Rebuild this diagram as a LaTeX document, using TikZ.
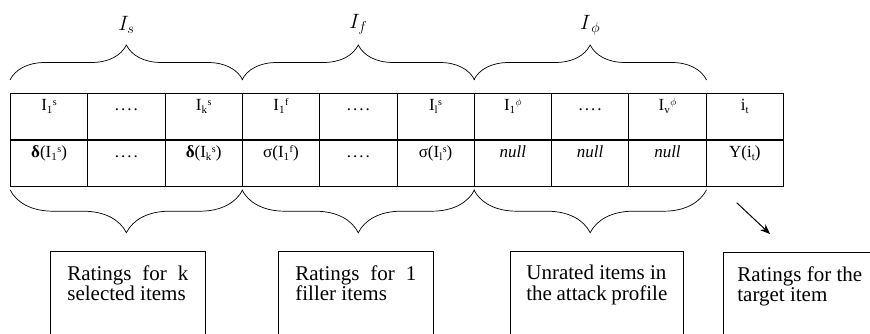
\documentclass[tikz,border=0pt]{standalone}
\usepackage{fontspec}
\setmainfont{Liberation Serif}
\usetikzlibrary{decorations.pathreplacing,arrows.meta,positioning}

\tikzset{
  cell/.style={draw, line width=0.3mm, anchor=north west, minimum width=77.3pt,
    inner xsep=0pt, inner ysep=0pt, text height=17pt, text depth=29pt,
    font=\fontsize{17}{17}\selectfont},
  topbrace/.style={decorate, decoration={brace, amplitude=35pt}, line width=0.25mm},
  botbrace/.style={decorate, decoration={brace, mirror, amplitude=43pt}, line width=0.25mm},
  rbox/.style={draw, line width=0.25mm, anchor=north west, inner xsep=17pt,
    inner ysep=14pt, font=\fontsize{21}{20.5}\selectfont},
  grp/.style={font=\fontsize{20}{20}\selectfont}
}
\newcommand{\boxtext}[2]{\parbox[t][110pt][t]{#1}{#2}}
\newcommand{\jline}[1]{\makebox[\linewidth][s]{#1}}
\newcommand{\lowr}[1]{\raisebox{-3pt}{\fontsize{11}{11}\selectfont #1}}
\newcommand{\highr}[1]{\raisebox{4.5pt}{\fontsize{10}{10}\selectfont #1}}
\newcommand{\itm}[2]{I\lowr{#1}\kern0.5pt\highr{#2}}
\newcommand{\dts}{.\kern2pt.\kern2pt.\kern2pt.}

\begin{document}
\begin{tikzpicture}[x=1pt, y=-1pt]
\clip (0,0) rectangle (870,334);

\foreach \t [count=\i from 0] in {\itm{1}{s}, \dts, \itm{k}{s}, \itm{1}{f}, \dts, \itm{l}{s},
    \itm{1}{$\phi$}, \dts, \itm{v}{$\phi$}, i\lowr{t}}
  \node[cell] (a\i) at (10+77.3*\i, 93) {\t};

\foreach \t [count=\i from 0] in {\textbf{δ}(\itm{1}{s}), \dts, \textbf{δ}(\itm{k}{s}),
    σ(\itm{1}{f}), \dts, σ(\itm{l}{s}), \textit{null}, \textit{null}, \textit{null}, Υ(i\lowr{t})}
  \node[cell] (b\i) at (a\i.south west) {\t};

\draw[topbrace] ([yshift=13pt]a0.north west) -- ([yshift=13pt]a2.north east)
  node[grp, midway, yshift=55pt] {$I_s$};
\draw[topbrace] ([yshift=13pt]a3.north west) -- ([yshift=13pt]a5.north east)
  node[grp, midway, yshift=56pt] {$I_f$};
\draw[topbrace] ([yshift=13pt]a6.north west) -- ([yshift=13pt]a8.north east)
  node[grp, midway, yshift=55pt] {$I_{\,\phi}$};

\draw[botbrace] ([yshift=-3pt]b0.south west) -- ([yshift=-3pt]b2.south east);
\draw[botbrace] ([yshift=-3pt]b3.south west) -- ([yshift=-3pt]b5.south east);
\draw[botbrace] ([yshift=-3pt]b6.south west) -- ([yshift=-3pt]b8.south east);

\node[rbox] (sbox) at (50,251) {\boxtext{121pt}{\jline{Ratings for k}\\selected items}};
\node[rbox] (fbox) at (278,251) {\boxtext{121pt}{\jline{Ratings for 1}\\filler items}};
\node[rbox, inner xsep=16pt] (ubox) at (510,251) {\boxtext{141pt}{Unrated items in\\the attack profile}};
\node[rbox, inner xsep=14pt] (tbox) at (723,252) {\boxtext{140pt}{Ratings for the\\target item}};

\coordinate (ar1) at ([xshift=31pt, yshift=-16pt]b9.south west);
\coordinate (ar2) at ([xshift=47pt, yshift=18pt]tbox.north west);
\draw[-{Stealth[length=10pt, width=8pt]}, line width=0.35mm] (ar1) -- (ar2);

\end{tikzpicture}
\end{document}
